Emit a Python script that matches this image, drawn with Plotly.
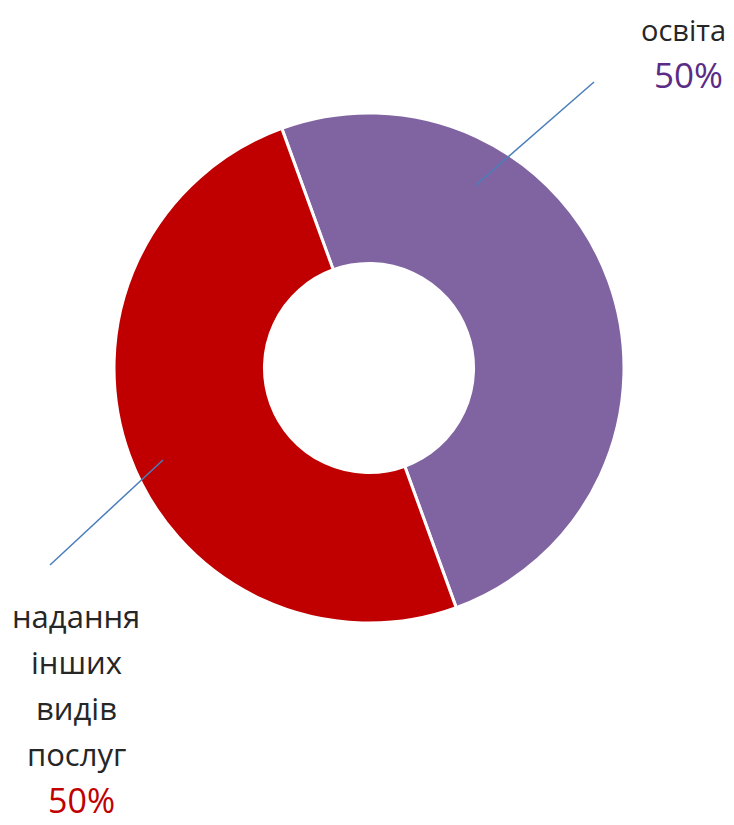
import plotly.graph_objects as go

labels = ["освіта", "надання інших видів послуг"]
label_lines = [["освіта"], ["надання", "інших", "видів", "послуг"]]
values = [50, 50]
colors = ["#8064A2", "#C00000"]
pct_colors = ["#5B2C86", "#C00000"]

OFF = 8  # default page body margin
W, H = 734 - OFF, 825 - OFF

def px(x):
    return (x - OFF) / W

def py(y):
    return 1 - (y - OFF) / H

cx, cy, R = 369, 368, 255

fig = go.Figure(go.Pie(
    labels=labels,
    values=values,
    marker=dict(colors=colors, line=dict(color="white", width=3)),
    hole=0.41,
    sort=False,
    direction="clockwise",
    rotation=-20,
    textinfo="none",
    hoverinfo="label+percent",
    showlegend=False,
    domain=dict(x=[px(cx - R), px(cx + R)], y=[py(cy + R), py(cy - R)]),
))

total = sum(values)
pcts = [f"{round(v / total * 100)}%" for v in values]

font_family = "Open Sans, Noto Sans, sans-serif"
ann = []
ann.append(dict(x=px(683), y=py(9), xref="paper", yref="paper", xanchor="center", yanchor="top",
                text=label_lines[0][0], showarrow=False, borderpad=0,
                font=dict(family=font_family, size=29, color="#262626")))
ann.append(dict(x=px(688), y=py(74), xref="paper", yref="paper", xanchor="center", yanchor="middle",
                text=pcts[0], showarrow=False,
                font=dict(family=font_family, size=35, color=pct_colors[0])))
ys = [616, 662, 708, 754]
for line, yy in zip(label_lines[1], ys):
    ann.append(dict(x=px(76), y=py(yy), xref="paper", yref="paper", xanchor="center", yanchor="middle",
                    text=line, showarrow=False,
                    font=dict(family=font_family, size=31, color="#262626")))
ann.append(dict(x=px(81), y=py(800), xref="paper", yref="paper", xanchor="center", yanchor="middle",
                text=pcts[1], showarrow=False, borderpad=0,
                font=dict(family=font_family, size=34, color=pct_colors[1])))

shapes = [
    dict(type="line", xref="paper", yref="paper", x0=px(594), y0=py(82), x1=px(476), y1=py(185),
         line=dict(color="#4A7EBB", width=1.5)),
    dict(type="line", xref="paper", yref="paper", x0=px(163), y0=py(460), x1=px(50), y1=py(565),
         line=dict(color="#4A7EBB", width=1.5)),
]

fig.update_layout(
    width=W, height=H,
    margin=dict(l=0, r=0, t=0, b=0),
    paper_bgcolor="white", plot_bgcolor="white",
    annotations=ann, shapes=shapes,
)

fig.write_html("out.html")
